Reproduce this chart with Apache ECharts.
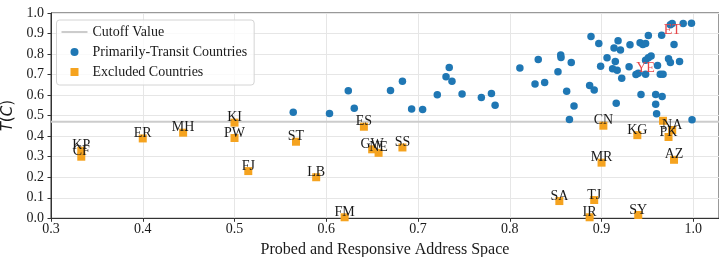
<!DOCTYPE html>
<html><head><meta charset="utf-8">
<script src="https://cdn.jsdelivr.net/npm/echarts@6/dist/echarts.min.js"></script>
<style>html,body{margin:0;padding:0;background:#fff}#c{width:719px;height:257px}</style>
</head><body><div id="c"></div>
<script>
// ---- data ----
const cutoffValue = 0.47;
const xRange = [0.3, 1.028];
const yRange = [0, 1.0];

const transitX = [0.564,0.6035,0.624,0.6305,0.670,0.683,0.693,0.705,0.721,0.7305,
  0.734,0.737,0.748,0.769,0.780,0.784,0.811,0.8275,0.831,0.838,
  0.8525,0.8555,0.8558,0.862,0.867,0.870,0.865,0.887,0.892,0.8885,
  0.897,0.899,0.906,0.912,0.9136,0.915,0.917,0.918,0.9206,0.922,
  0.916,0.930,0.931,0.9375,0.940,0.942,0.943,0.945,0.948,0.948,
  0.948,0.951,0.951,0.954,0.959,0.959,0.960,0.961,0.964,0.967,
  0.9655,0.966,0.973,0.975,0.975,0.977,0.979,0.985,0.989,0.998,0.9986];
const transitY = [0.516,0.510,0.621,0.536,0.623,0.667,0.533,0.530,0.602,0.690,
  0.735,0.668,0.606,0.589,0.608,0.551,0.732,0.654,0.773,0.661,
  0.714,0.795,0.783,0.619,0.759,0.547,0.481,0.647,0.625,0.885,
  0.852,0.741,0.782,0.728,0.830,0.764,0.721,0.865,0.820,0.682,
  0.560,0.738,0.845,0.701,0.707,0.855,0.603,0.847,0.852,0.770,
  0.702,0.782,0.891,0.791,0.603,0.556,0.509,0.744,0.702,0.702,
  0.892,0.593,0.777,0.759,0.943,0.949,0.847,0.764,0.949,0.950,0.480];
const transitNamedIdx = [65, 50];
const transitNamed = ['ET', 'YE'];

const excludedX = [0.333,0.333,0.400,0.444,0.500,0.500,0.515,0.567,0.589,0.620,
  0.641,0.650,0.657,0.683,0.854,0.892,0.887,0.900,0.902,0.939,
  0.940,0.967,0.977,0.973,0.979];
const excludedY = [0.329,0.300,0.389,0.417,0.466,0.391,0.230,0.373,0.200,0.005,
  0.446,0.336,0.319,0.345,0.084,0.089,0.005,0.271,0.451,0.405,
  0.016,0.475,0.430,0.396,0.285];
const excludedNames = ['KP','CF','ER','MH','KI','PW','FJ','ST','LB','FM',
  'ES','GW','NE','SS','SA','TJ','IR','MR','CN','KG',
  'SY','','NA','PK','AZ'];

const legendNames = ['Cutoff Value', 'Primarily-Transit Countries', 'Excluded Countries'];
const xAxisTitle = 'Probed and Responsive Address Space';

// ---- chart ----
const SERIF = '"Liberation Serif", "Times New Roman", serif';
const chart = echarts.init(document.getElementById('c'), null, {renderer: 'canvas'});

const transitData = transitX.map((x, i) => {
  const k = transitNamedIdx.indexOf(i);
  return {value: [x, transitY[i]], name: k >= 0 ? transitNamed[k] : ''};
});
const excludedData = excludedX.map((x, i) => ({value: [x, excludedY[i]], name: excludedNames[i]}));

const tickFmt = v => (Math.abs(v * 10 - Math.round(v * 10)) < 1e-6 ? v.toFixed(1) : '');

chart.setOption({
  animation: false,
  backgroundColor: '#ffffff',
  grid: {left: 51, right: 0, top: 13, bottom: 38.7, containLabel: false, outerBoundsMode: 'none',
    show: true, borderColor: '#333333', borderWidth: 1},
  legend: {
    data: [
      {name: legendNames[0], icon: 'path://M0,0H26V2H0Z'},
      {name: legendNames[1], icon: 'circle'},
      {name: legendNames[2], icon: 'path://M0,0H8V8H0Z'}
    ],
    orient: 'vertical', left: 56.5, top: 20,
    itemWidth: 26, itemHeight: 8, itemGap: 6, symbolKeepAspect: true,
    padding: [5, 7, 6, 5],
    backgroundColor: 'rgba(255,255,255,0.8)', borderColor: '#d4d4d4', borderWidth: 1, borderRadius: 3,
    textStyle: {fontFamily: SERIF, fontSize: 14, color: '#1a1a1a', lineHeight: 14},
    selectedMode: false
  },
  xAxis: {
    type: 'value', min: xRange[0], max: xRange[1], interval: 0.1,
    name: xAxisTitle, nameLocation: 'middle', nameGap: 15.5,
    nameTextStyle: {fontFamily: SERIF, fontSize: 16, color: '#1a1a1a', verticalAlign: 'top', lineHeight: 16},
    axisLine: {show: true, lineStyle: {color: '#333333', width: 1}},
    axisTick: {show: true, length: 3.5, inside: false, lineStyle: {color: '#333333'}},
    axisLabel: {margin: 4.5, fontFamily: SERIF, fontSize: 14, color: '#1a1a1a', formatter: tickFmt, showMaxLabel: false},
    splitLine: {show: true, lineStyle: {color: '#e6e6e6', width: 1}}
  },
  yAxis: {
    type: 'value', min: yRange[0], max: yRange[1], interval: 0.1,
    name: '{i|T}{n|(}{i|C}{n|)}', nameLocation: 'middle', nameGap: 27, nameRotate: 90,
    nameTextStyle: {
      color: '#1a1a1a',
      rich: {
        i: {fontFamily: '"DejaVu Sans"', fontStyle: 'italic', fontSize: 15, color: '#1a1a1a'},
        n: {fontFamily: '"DejaVu Sans"', fontSize: 15, color: '#1a1a1a'}
      }
    },
    axisLine: {show: true, lineStyle: {color: '#333333', width: 1}},
    axisTick: {show: true, length: 3.5, inside: false, lineStyle: {color: '#333333'}},
    axisLabel: {margin: 7, fontFamily: SERIF, fontSize: 14, color: '#1a1a1a', formatter: v => v.toFixed(1)},
    splitLine: {show: true, lineStyle: {color: '#e6e6e6', width: 1}}
  },
  series: [
    {
      name: legendNames[0], type: 'line', silent: true, z: 1,
      data: [[xRange[0], cutoffValue], [xRange[1], cutoffValue]],
      symbol: 'none', lineStyle: {color: '#cccccc', width: 2}, itemStyle: {color: '#cccccc'}
    },
    {
      name: legendNames[1], type: 'scatter', z: 3, symbol: 'circle', symbolSize: 7.5,
      itemStyle: {color: '#1f77b4', opacity: 1},
      data: transitData,
      label: {show: true, position: 'top', distance: -6, formatter: '{b}',
        fontFamily: SERIF, fontSize: 14, color: '#e8474a', lineHeight: 14},
      labelLayout: p => (p.text === 'ET' ? {dy: 12} : {dy: -1})
    },
    {
      name: legendNames[2], type: 'scatter', z: 4, symbol: 'rect', symbolSize: 8,
      itemStyle: {color: '#f5a31f', opacity: 1},
      data: excludedData,
      label: {show: true, position: 'top', distance: -6, formatter: '{b}',
        fontFamily: SERIF, fontSize: 14, color: '#1a1a1a', lineHeight: 14}
    }
  ]
});
</script>
</body></html>
